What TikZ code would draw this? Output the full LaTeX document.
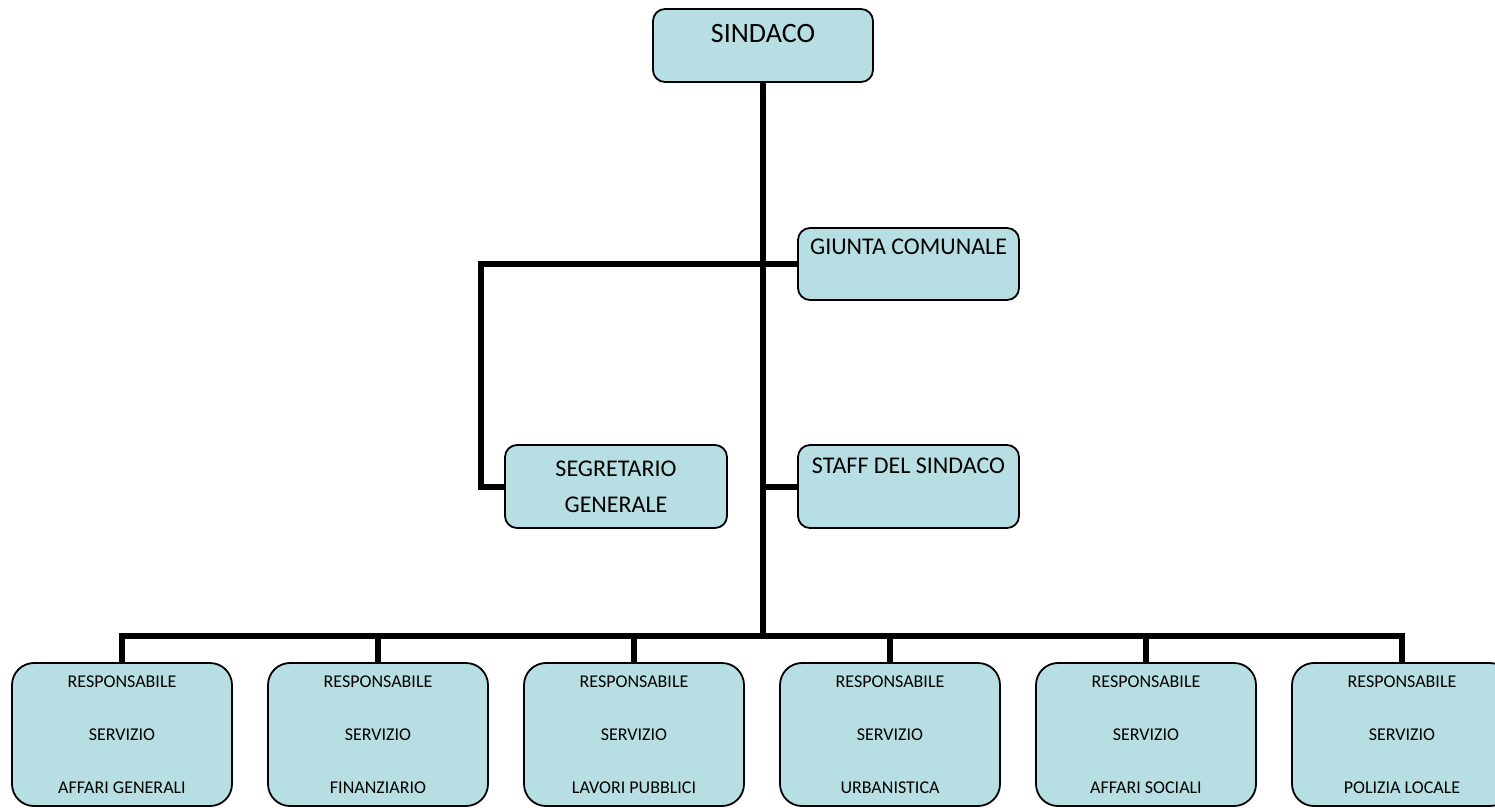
\documentclass[tikz,border=0pt]{standalone}
\usepackage{fontspec}
\setmainfont{Carlito}
\definecolor{boxfill}{RGB}{183,223,227}

\begin{document}
\begin{tikzpicture}[
  x=1pt, y=-1pt,
  head/.style={draw, line width=1.8pt, fill=boxfill, rounded corners=12pt, inner sep=0pt, minimum width=221pt, font=\fontsize{24}{36}\selectfont},
  unit/.style={draw, line width=1.8pt, fill=boxfill, rounded corners=22pt, inner sep=0pt, minimum width=220pt, minimum height=143pt, align=center, font=\fontsize{18}{53}\selectfont},
  link/.style={line width=6pt}
]
  \clip (0, 0) rectangle (1495, 807);
  \node[head, minimum width=220pt, text height=33pt, text depth=40pt, font=\fontsize{28}{34}\selectfont] (sin) at (763, 45.5) {SINDACO};
  \node[head, text height=26pt, text depth=46pt] (giu) at (908.5, 264) {GIUNTA COMUNALE};
  \node[head, text height=28pt, text depth=55pt] (sta) at (908.5, 486.5) {STAFF DEL SINDACO};
  \node[head, minimum width=222pt, minimum height=83pt, align=center] (seg) at (616, 486.5) {SEGRETARIO\\GENERALE};

  \node[unit] (r1) at (122, 734.5) {RESPONSABILE\\SERVIZIO\\AFFARI GENERALI};
  \node[unit] (r2) at (378, 734.5) {RESPONSABILE\\SERVIZIO\\FINANZIARIO};
  \node[unit] (r3) at (634, 734.5) {RESPONSABILE\\SERVIZIO\\LAVORI PUBBLICI};
  \node[unit] (r4) at (890, 734.5) {RESPONSABILE\\SERVIZIO\\URBANISTICA};
  \node[unit] (r5) at (1146, 734.5) {RESPONSABILE\\SERVIZIO\\AFFARI SOCIALI};
  \node[unit] (r6) at (1402, 734.5) {RESPONSABILE\\SERVIZIO\\POLIZIA LOCALE};

  \coordinate (bus) at (763, 636);
  \coordinate (elbow) at (481, 264);
  \draw[link] (sin) -- (bus);
  \draw[link] (giu.west) -- (elbow) |- (seg.west);
  \draw[link] (sta.west) -- (sta.west -| bus);
  \draw[link] (r1.north) |- (r6.north |- bus) -- (r6.north);
  \draw[link] (r2) -- (r2 |- bus);
  \draw[link] (r3) -- (r3 |- bus);
  \draw[link] (r4) -- (r4 |- bus);
  \draw[link] (r5) -- (r5 |- bus);
\end{tikzpicture}
\end{document}
